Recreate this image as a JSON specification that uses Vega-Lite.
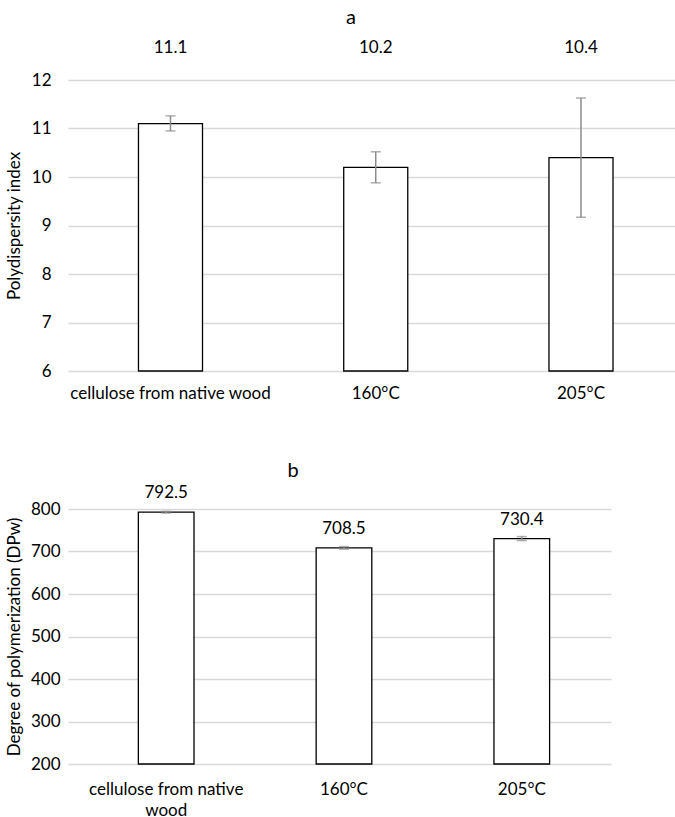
{
  "$schema": "https://vega.github.io/schema/vega-lite/v6.json",
  "padding": {"left": 5, "top": 8, "right": 0, "bottom": 0},
  "background": "white",
  "config": {
    "font": "Lato",
    "view": {"stroke": null},
    "axis": {"labelFont": "Lato", "labelFontSize": 17, "labelColor": "#000", "titleFont": "Lato", "titleFontSize": 17, "titleFontWeight": "normal", "titleColor": "#000", "ticks": false, "domain": false, "gridColor": "#d9d9d9", "gridWidth": 1.3, "labelLimit": 400},
    "title": {"font": "Lato", "fontSize": 20, "fontWeight": "normal", "color": "#000"}
  },
  "spacing": 60,
  "vconcat": [
    {
      "title": {"text": "a", "dx": -20.5, "offset": 11},
      "width": 607,
      "height": 291,
      "data": {"values": [
        {"sample": "cellulose from native wood", "value": 11.1, "lo": 10.95, "hi": 11.26},
        {"sample": "160°C", "value": 10.2, "lo": 9.88, "hi": 10.52},
        {"sample": "205°C", "value": 10.4, "lo": 9.17, "hi": 11.63}
      ]},
      "encoding": {
        "x": {"field": "sample", "type": "nominal", "sort": null,
          "scale": {"paddingInner": 0.688, "paddingOuter": 0.3227, "align": 0.532},
          "axis": {"title": null, "labelAngle": 0, "labelPadding": 14, "grid": false, "labelOverlap": false}}
      },
      "layer": [
        {"mark": {"type": "bar", "fill": "white", "stroke": "black", "strokeWidth": 1.3},
         "encoding": {"y": {"field": "value", "type": "quantitative", "title": "Polydispersity index",
           "scale": {"domain": [6, 12], "nice": false, "zero": false},
           "axis": {"values": [6, 7, 8, 9, 10, 11, 12], "labelPadding": 17, "titlePadding": 8, "grid": true}},
           "y2": {"datum": 6}}},
        {"mark": {"type": "rule", "color": "#8c8c8c", "strokeWidth": 1.5},
         "encoding": {"y": {"field": "lo", "type": "quantitative", "title": "Polydispersity index"}, "y2": {"field": "hi"}}},
        {"mark": {"type": "tick", "color": "#8c8c8c", "thickness": 1.5, "size": 10},
         "encoding": {"y": {"field": "lo", "type": "quantitative", "title": "Polydispersity index"}}},
        {"mark": {"type": "tick", "color": "#8c8c8c", "thickness": 1.5, "size": 10},
         "encoding": {"y": {"field": "hi", "type": "quantitative", "title": "Polydispersity index"}}},
        {"mark": {"type": "text", "fontSize": 17, "baseline": "middle", "dy": -32, "color": "#000"},
         "encoding": {"y": {"datum": 12, "type": "quantitative"}, "text": {"field": "value", "type": "quantitative", "format": ".1f"}}}
      ]
    },
    {
      "title": {"text": "b", "dx": -46.5, "offset": 3},
      "width": 543,
      "height": 255,
      "data": {"values": [
        {"sample": "cellulose from native wood", "value": 792.5, "lo": 790.5, "hi": 794.5},
        {"sample": "160°C", "value": 708.5, "lo": 705.5, "hi": 711.5},
        {"sample": "205°C", "value": 730.4, "lo": 725.7, "hi": 735.1}
      ]},
      "encoding": {
        "x": {"field": "sample", "type": "nominal", "sort": null,
          "scale": {"paddingInner": 0.687, "paddingOuter": 0.3705, "align": 0.534},
          "axis": {"title": null, "labelAngle": 0, "labelPadding": 17, "grid": false, "labelLineHeight": 21, "labelOverlap": false,
            "labelExpr": "datum.label == 'cellulose from native wood' ? ['cellulose from native', 'wood'] : datum.label"}}
      },
      "layer": [
        {"mark": {"type": "bar", "fill": "white", "stroke": "black", "strokeWidth": 1.3},
         "encoding": {"y": {"field": "value", "type": "quantitative", "title": "Degree of polymerization (DPw)",
           "scale": {"domain": [200, 800], "nice": false, "zero": false},
           "axis": {"values": [200, 300, 400, 500, 600, 700, 800], "labelPadding": 8, "titlePadding": 7, "grid": true}},
           "y2": {"datum": 200}}},
        {"mark": {"type": "rule", "color": "#8c8c8c", "strokeWidth": 1.5},
         "encoding": {"y": {"field": "lo", "type": "quantitative", "title": "Degree of polymerization (DPw)"}, "y2": {"field": "hi"}}},
        {"mark": {"type": "tick", "color": "#8c8c8c", "thickness": 1.5, "size": 10},
         "encoding": {"y": {"field": "lo", "type": "quantitative", "title": "Degree of polymerization (DPw)"}}},
        {"mark": {"type": "tick", "color": "#8c8c8c", "thickness": 1.5, "size": 10},
         "encoding": {"y": {"field": "hi", "type": "quantitative", "title": "Degree of polymerization (DPw)"}}},
        {"mark": {"type": "text", "fontSize": 17, "baseline": "middle", "dy": -19, "color": "#000"},
         "encoding": {"y": {"field": "value", "type": "quantitative"}, "text": {"field": "value", "type": "quantitative", "format": ".1f"}}}
      ]
    }
  ]
}
